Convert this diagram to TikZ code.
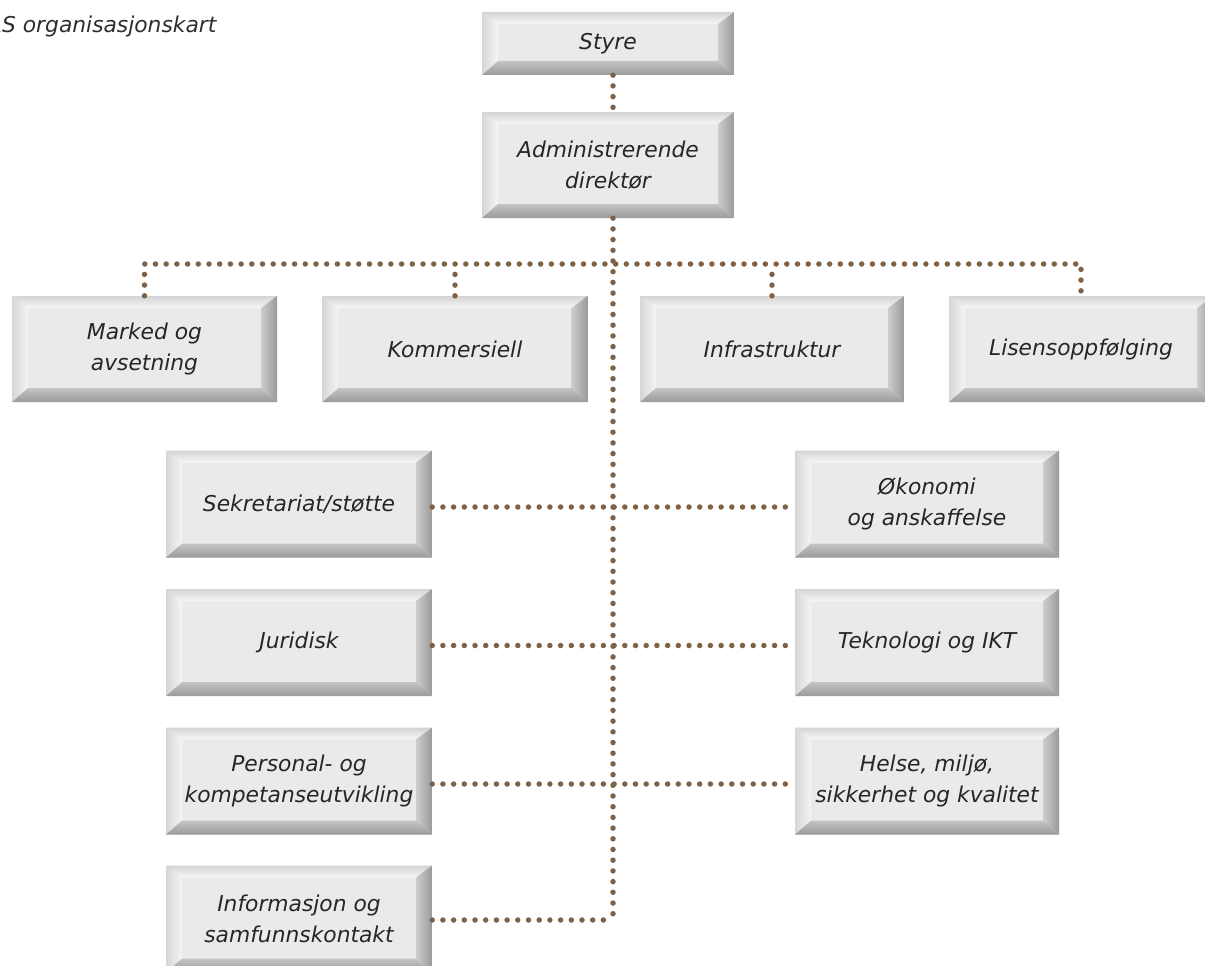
\documentclass[tikz,border=0pt]{standalone}
\usepackage{fontspec}
\setmainfont{DejaVu Sans}
\usetikzlibrary{calc}
\definecolor{dotc}{HTML}{7F6246}
\definecolor{face}{HTML}{EAEAEA}
\definecolor{bvtA}{HTML}{D4D4D4}
\definecolor{bvtB}{HTML}{F7F7F7}
\definecolor{bvlA}{HTML}{D6D6D6}
\definecolor{bvlB}{HTML}{F5F5F5}
\definecolor{bvrA}{HTML}{CDCDCD}
\definecolor{bvrB}{HTML}{9A9A9A}
\definecolor{bvbA}{HTML}{C4C4C4}
\definecolor{bvbB}{HTML}{9A9A9A}
\definecolor{boxtext}{HTML}{262626}
\definecolor{titlec}{HTML}{2E2E2E}
\begin{document}
\begin{tikzpicture}[x=1pt,y=-1pt,
  orgbox/.style={rectangle, inner sep=0pt, minimum width=265pt, minimum height=106pt,
    align=center, text=boxtext, font=\fontsize{21.8}{30.5}\selectfont\itshape,
    path picture={
      \path (path picture bounding box.south west) coordinate (ppA)
            (path picture bounding box.north east) coordinate (ppB);
      \fill[face] (ppA) rectangle (ppB);
      \shade[top color=bvtA, bottom color=bvtB] let \p1=(ppA), \p2=(ppB) in
        (\x1,\y2) -- (\x2,\y2) -- (\x2-16pt,\y2-12pt) -- (\x1+16pt,\y2-12pt) -- cycle;
      \shade[left color=bvlA, right color=bvlB] let \p1=(ppA), \p2=(ppB) in
        (\x1,\y1) -- (\x1,\y2) -- (\x1+16pt,\y2-12pt) -- (\x1+16pt,\y1+14pt) -- cycle;
      \shade[left color=bvrA, right color=bvrB] let \p1=(ppA), \p2=(ppB) in
        (\x2,\y1) -- (\x2,\y2) -- (\x2-16pt,\y2-12pt) -- (\x2-16pt,\y1+14pt) -- cycle;
      \shade[top color=bvbA, bottom color=bvbB] let \p1=(ppA), \p2=(ppB) in
        (\x1,\y1) -- (\x2,\y1) -- (\x2-16pt,\y1+14pt) -- (\x1+16pt,\y1+14pt) -- cycle;
    }},
  dots/.style={draw=dotc, line width=5.5pt, line cap=round, dash pattern=on 0pt off 10.7pt}]
\useasboundingbox (0,0) rectangle (1205,966);

\node[anchor=base west, inner sep=0pt, text=titlec, font=\fontsize{21.8}{25}\selectfont\itshape] (title) at (-13,33) {AS organisasjonskart};

% top
\node[orgbox, minimum width=252pt, minimum height=63pt] (styre) at (608,43.5) {Styre};
\node[orgbox, minimum width=252pt] (admin) at (608,165) {Administrerende\\direktør};

% row 1
\node[orgbox] (marked) at (144.5,349) {Marked og\\avsetning};
\node[orgbox] (komm) at (455,349) {Kommersiell};
\node[orgbox, minimum width=264pt] (infra) at (772,349) {Infrastruktur};
\node[orgbox, minimum width=264pt] (lisens) at (1081,349) {Lisensoppfølging};

% left column
\node[orgbox, minimum width=266pt, minimum height=107pt] (sek) at (299,504) {Sekretariat/støtte};
\node[orgbox, minimum width=266pt, minimum height=107pt] (jur) at (299,642.5) {Juridisk};
\node[orgbox, minimum width=266pt, minimum height=107pt] (pers) at (299,781) {Personal- og\\kompetanseutvikling};
\node[orgbox, minimum width=266pt, minimum height=107pt] (info) at (299,919) {Informasjon og\\samfunnskontakt};

% right column
\node[orgbox, minimum width=264pt, minimum height=107pt] (oko) at (927,504) {Økonomi\\og anskaffelse};
\node[orgbox, minimum width=264pt, minimum height=107pt] (tek) at (927,642.5) {Teknologi og IKT};
\node[orgbox, minimum width=264pt, minimum height=107pt] (helse) at (927,781) {Helse, miljø,\\sikkerhet og kvalitet};

% helper coordinates
\coordinate (trunk) at (613,0);
\coordinate (bus) at (0,264);
\coordinate (sekE) at ([yshift=-3pt]sek.east);
\coordinate (okoW) at ([yshift=-3pt]oko.west);
\coordinate (jurE) at ([yshift=-3pt]jur.east);
\coordinate (tekW) at ([yshift=-3pt]tek.west);
\coordinate (persE) at ([yshift=-3pt]pers.east);
\coordinate (helseW) at ([yshift=-3pt]helse.west);
\coordinate (infoE) at ([yshift=-1pt]info.east);

% connectors
\draw[dots] (styre.south -| trunk) -- (admin.north -| trunk);
\draw[dots] (admin.south -| trunk) -- (infoE -| trunk);
\draw[dots] (marked.north) -- (marked.north |- bus) -- (lisens.north |- bus) -- (lisens.north);
\draw[dots] (komm.north) -- (komm.north |- bus);
\draw[dots] (infra.north) -- (infra.north |- bus);
\draw[dots] (sekE) -- (okoW);
\draw[dots] (jurE) -- (tekW);
\draw[dots] (persE) -- (helseW);
\draw[dots] (infoE) -- (infoE -| trunk);
\end{tikzpicture}
\end{document}
